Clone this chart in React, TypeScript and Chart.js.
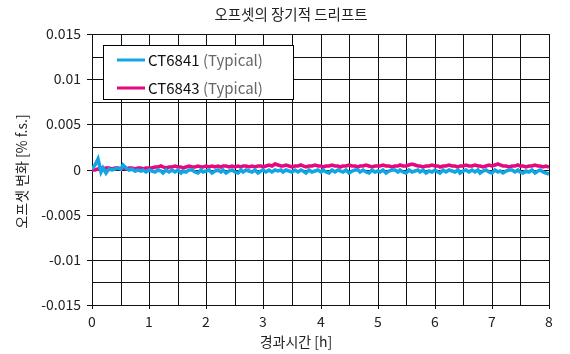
import React, { useEffect, useRef } from "react";
import { Chart, registerables } from "chart.js";

Chart.register(...registerables);

const TITLE = "오프셋의 장기적 드리프트";
const X_TITLE = "경과시간 [h]";
const Y_TITLE = "오프셋 변화 [% f.s.]";
const SERIES_NAMES = ["CT6841", "CT6843"];
const SERIES_NOTE = "(Typical)";
const TIME_STEP_H = 0.05;

const ct6841 = [
  0.0001, 0.0005, 0.0012, -0.0003, 0.0002, -0.0004, 0.0001, -0.0001, 0.0001, 0.0002,
  0.0001, 0.0005, 0.0002, -0.0001, 0.0001, -0.0002, 0.0, -0.0002, -0.0001, -0.0003, 0.0,
  -0.0002, -0.0003, 0.0, -0.0002, -0.0004, -0.0001, -0.0003, 0.0, -0.0003, -0.0001,
  -0.0004, -0.0002, -0.0003, -0.0001, 0.0, -0.0003, -0.0004, -0.0001, -0.0003, -0.0002,
  -0.0001, -0.0004, -0.0002, 0.0, -0.0003, -0.0001, -0.0004, -0.0002, -0.0001, -0.0003,
  -0.0004, -0.0001, -0.0003, 0.0, -0.0002, -0.0003, -0.0001, -0.0004, -0.0002, 0.0,
  -0.0003, -0.0001, -0.0003, 0.0, -0.0002, -0.0001, -0.0003, 0.0, -0.0002, -0.0003,
  -0.0001, -0.0003, 0.0, -0.0002, -0.0004, -0.0001, -0.0003, -0.0002, 0.0, -0.0003,
  -0.0001, -0.0003, -0.0004, -0.0001, -0.0003, 0.0, -0.0002, -0.0003, -0.0001, -0.0004,
  -0.0002, -0.0001, 0.0, -0.0003, -0.0001, -0.0003, -0.0004, -0.0001, -0.0003, -0.0002,
  -0.0003, -0.0001, -0.0004, -0.0002, -0.0001, 0.0, -0.0003, -0.0001, -0.0003, -0.0004,
  -0.0001, -0.0003, -0.0002, 0.0, -0.0003, -0.0001, -0.0004, -0.0002, -0.0003, -0.0001,
  -0.0003, -0.0004, -0.0001, -0.0003, 0.0, -0.0002, -0.0003, -0.0001, -0.0004, -0.0002,
  -0.0001, -0.0003, 0.0, -0.0003, -0.0001, -0.0004, -0.0002, -0.0001, -0.0003, -0.0004,
  -0.0001, -0.0003, -0.0002, -0.0004, -0.0002, -0.0001, 0.0, -0.0003, -0.0001, -0.0003,
  -0.0004, -0.0002, -0.0003, -0.0001, -0.0004, -0.0002, -0.0001, -0.0003, -0.0004, -0.0005,
];

const ct6843 = [
  -0.0001, 0.0, 0.0001, 0.0002, 0.0001, 0.0002, 0.0002, 0.0001, 0.0002, 0.0002, 0.0001,
  0.0002, 0.0001, 0.0002, 0.0002, 0.0001, 0.0002, 0.0002, 0.0001, 0.0002, 0.0002,
  0.0002, 0.0003, 0.0003, 0.0004, 0.0003, 0.0002, 0.0003, 0.0003, 0.0004, 0.0003,
  0.0003, 0.0002, 0.0003, 0.0004, 0.0003, 0.0003, 0.0004, 0.0003, 0.0003, 0.0004,
  0.0003, 0.0004, 0.0003, 0.0004, 0.0003, 0.0004, 0.0004, 0.0003, 0.0004, 0.0003,
  0.0004, 0.0003, 0.0004, 0.0004, 0.0003, 0.0004, 0.0003, 0.0004, 0.0004, 0.0003,
  0.0004, 0.0005, 0.0004, 0.0006, 0.0005, 0.0004, 0.0004, 0.0005, 0.0004, 0.0003,
  0.0004, 0.0004, 0.0005, 0.0004, 0.0003, 0.0004, 0.0004, 0.0005, 0.0004, 0.0004,
  0.0003, 0.0004, 0.0004, 0.0005, 0.0004, 0.0004, 0.0003, 0.0004, 0.0004, 0.0005,
  0.0004, 0.0004, 0.0003, 0.0004, 0.0004, 0.0005, 0.0004, 0.0003, 0.0004, 0.0004,
  0.0004, 0.0005, 0.0004, 0.0004, 0.0003, 0.0004, 0.0004, 0.0005, 0.0004, 0.0004,
  0.0005, 0.0006, 0.0005, 0.0004, 0.0004, 0.0003, 0.0004, 0.0004, 0.0005, 0.0004,
  0.0004, 0.0003, 0.0004, 0.0004, 0.0005, 0.0004, 0.0004, 0.0003, 0.0004, 0.0004,
  0.0005, 0.0004, 0.0004, 0.0005, 0.0004, 0.0004, 0.0003, 0.0004, 0.0005, 0.0004,
  0.0005, 0.0006, 0.0005, 0.0004, 0.0004, 0.0003, 0.0004, 0.0004, 0.0005, 0.0004,
  0.0004, 0.0003, 0.0004, 0.0004, 0.0005, 0.0004, 0.0004, 0.0003, 0.0004, 0.0003,
];

const X_MIN = 0, X_MAX = 8, X_STEP = 0.5;
const Y_MIN = -0.015, Y_MAX = 0.015, Y_STEP = 0.0025;

const BLUE = "#13a4e4";
const PINK = "#e5097f";
const FONT = "'Noto Sans CJK KR', 'Noto Sans', sans-serif";

const toPoints = (arr: number[]) => arr.map((y, i) => ({ x: i * TIME_STEP_H, y }));

const isMajorY = (v: number) => Math.abs(Math.round(v / 0.005) * 0.005 - v) < 1e-9;
const isMajorX = (v: number) => Math.abs(Math.round(v) - v) < 1e-9;

const fmtY = (v: number) => {
  if (Math.abs(v) < 1e-12) return "0";
  return String(parseFloat(v.toFixed(4)));
};

const overlay = {
  id: "overlay",
  afterDraw(chart: any) {
    const ctx = chart.ctx as CanvasRenderingContext2D;
    const a = chart.chartArea;
    ctx.save();
    ctx.fillStyle = "#222";
    ctx.font = `14.5px ${FONT}`;
    ctx.textAlign = "center";
    ctx.textBaseline = "middle";
    ctx.fillText(TITLE, 291, 14);
    ctx.font = `14px ${FONT}`;
    ctx.fillText(X_TITLE, 296, 342);
    ctx.save();
    ctx.translate(22, (a.top + a.bottom) / 2 + 2);
    ctx.rotate(-Math.PI / 2);
    ctx.fillText(Y_TITLE, 0, 0);
    ctx.restore();

    const bx = a.left + 11, by = a.top + 11, bw = 190, bh = 54;
    ctx.fillStyle = "#fff";
    ctx.fillRect(bx, by, bw, bh);
    ctx.strokeStyle = "#000";
    ctx.lineWidth = 1;
    ctx.strokeRect(bx + 0.5, by + 0.5, bw, bh);
    const colors = [BLUE, PINK];
    const rows = [by + 15, by + 43];
    ctx.font = `15px ${FONT}`;
    ctx.textAlign = "left";
    SERIES_NAMES.forEach((name, i) => {
      const y = rows[i];
      ctx.strokeStyle = colors[i];
      ctx.lineWidth = 3;
      ctx.beginPath();
      ctx.moveTo(bx + 14, y);
      ctx.lineTo(bx + 42, y);
      ctx.stroke();
      ctx.fillStyle = "#111";
      ctx.fillText(name, bx + 45, y);
      const w = ctx.measureText(name + " ").width;
      ctx.fillStyle = "#666";
      ctx.fillText(SERIES_NOTE, bx + 45 + w, y);
    });
    ctx.restore();
  },
};

export default function App() {
  const ref = useRef<HTMLCanvasElement | null>(null);
  useEffect(() => {
    if (!ref.current) return;
    const chart = new Chart(ref.current, {
      type: "line",
      data: {
        datasets: [
          {
            label: SERIES_NAMES[0],
            data: toPoints(ct6841),
            borderColor: BLUE,
            borderWidth: 3.5,
            pointRadius: 0,
            tension: 0,
            order: 0,
          },
          {
            label: SERIES_NAMES[1],
            data: toPoints(ct6843),
            borderColor: PINK,
            borderWidth: 3.5,
            pointRadius: 0,
            tension: 0,
            order: 1,
          },
        ],
      },
      options: {
        animation: false,
        responsive: false,
        maintainAspectRatio: false,
        layout: { padding: { top: 34, right: 21, left: 0, bottom: 0 } },
        plugins: { legend: { display: false }, tooltip: { enabled: false }, title: { display: false } },
        scales: {
          x: {
            type: "linear",
            min: X_MIN,
            max: X_MAX,
            alignToPixels: true,
            afterFit: (s: any) => { s.height = 49; },
            afterBuildTicks: (s: any) => {
              const t = [];
              for (let v = X_MIN; v <= X_MAX + 1e-9; v += X_STEP) t.push({ value: Math.round(v * 10) / 10 });
              s.ticks = t;
            },
            grid: {
              color: "#111",
              lineWidth: 1,
              tickLength: 4,
              tickColor: (c: any) => (isMajorX(c.tick?.value ?? 0.5) ? "#111" : "rgba(0,0,0,0)"),
            },
            border: { color: "#111", width: 1 },
            ticks: {
              color: "#222",
              font: { family: FONT, size: 14 },
              padding: 4,
              maxRotation: 0,
              autoSkip: false,
              callback: (v: any) => (isMajorX(Number(v)) ? String(Math.round(Number(v))) : ""),
            },
          },
          y: {
            type: "linear",
            min: Y_MIN,
            max: Y_MAX,
            alignToPixels: true,
            afterFit: (s: any) => { s.width = 92; },
            afterBuildTicks: (s: any) => {
              const t = [];
              for (let k = 0; k <= Math.round((Y_MAX - Y_MIN) / Y_STEP); k++) t.push({ value: Y_MIN + k * Y_STEP });
              s.ticks = t;
            },
            grid: {
              color: "#111",
              lineWidth: 1,
              tickLength: 5,
              tickColor: (c: any) => (isMajorY(c.tick?.value ?? 0.001) ? "#111" : "rgba(0,0,0,0)"),
            },
            border: { color: "#111", width: 1 },
            ticks: {
              color: "#222",
              font: { family: FONT, size: 14 },
              padding: 6,
              autoSkip: false,
              callback: (v: any) => (isMajorY(Number(v)) ? fmtY(Number(v)) : ""),
            },
          },
        },
      },
      plugins: [overlay],
    });
    return () => chart.destroy();
  }, []);
  return (
    <div style={{ position: "fixed", left: 0, top: 0, width: 570, height: 354, background: "#fff" }}>
      <canvas ref={ref} width={570} height={354} style={{ width: 570, height: 354 }} />
    </div>
  );
}
